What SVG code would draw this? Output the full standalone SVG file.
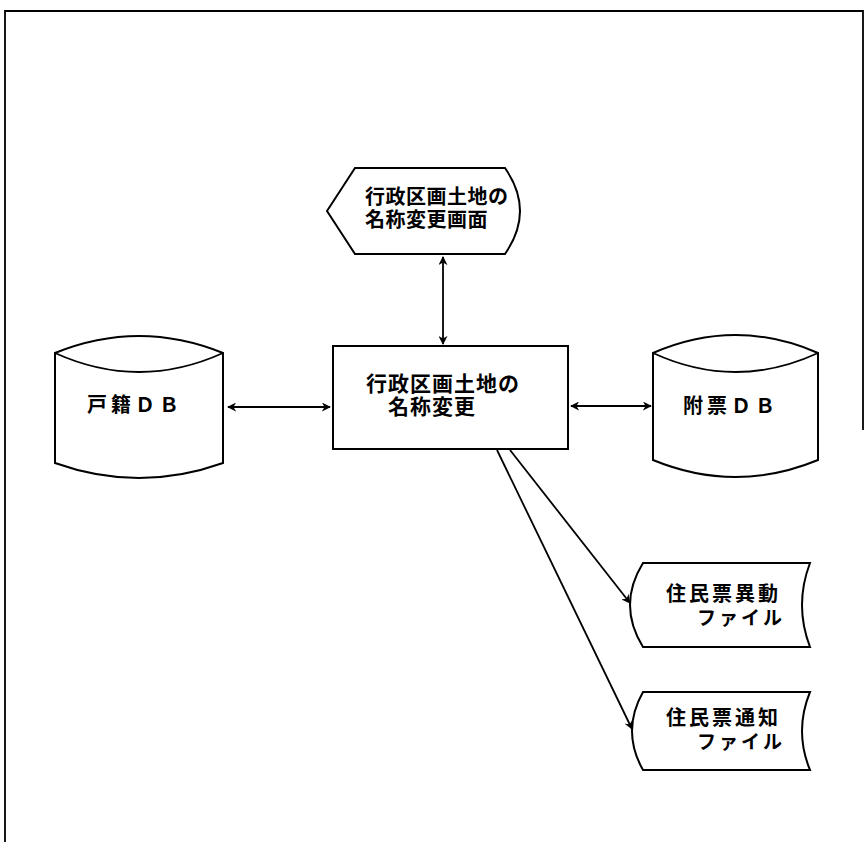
<svg xmlns="http://www.w3.org/2000/svg" width="865" height="842" viewBox="0 0 865 842">
<style>
.s{fill:#fff;stroke:#000;stroke-width:2}
.l{fill:none;stroke:#000;stroke-width:1.8}
.t{font-family:"Noto Sans CJK JP","Noto Sans CJK SC",sans-serif;font-weight:bold;fill:#000}
</style>
<defs>
<marker id="ah" viewBox="0 0 10 10" refX="9" refY="5" markerWidth="9" markerHeight="9" markerUnits="userSpaceOnUse" orient="auto-start-reverse">
<path d="M0,0 L10,5 L0,10 L3,5 Z" fill="#000"/>
</marker>
</defs>
<rect width="865" height="842" fill="#fff"/>
<path class="l" d="M5,842 L5,11 L863,11 L863,430" stroke-width="2.5"/>
<g id="display">
<path class="s" d="M327,211 L355,168 L505,168 Q535,211 505,254 L355,254 Z"/>
<text class="t" font-size="20" x="365" y="204" letter-spacing="0.5">行政区画土地の</text>
<text class="t" font-size="20" x="365" y="227" letter-spacing="0.5">名称変更画面</text>
</g>
<g id="process">
<rect class="s" x="333" y="346" width="235" height="103"/>
<text class="t" font-size="21" x="366" y="391" letter-spacing="1">行政区画土地の</text>
<text class="t" font-size="21" x="388" y="414" letter-spacing="1">名称変更</text>
</g>
<g id="koseki">
<path class="s" d="M55,353 Q139,319 223,353 L223,463 Q139,493 55,463 Z"/>
<path class="l" d="M55,353 Q139,391 223,353"/>
<text class="t" font-size="20" x="87" y="412" letter-spacing="4">戸籍ＤＢ</text>
</g>
<g id="fuhyo">
<path class="s" d="M653,353 Q735.5,317 818,353 L818,460 Q735.5,494 653,460 Z"/>
<path class="l" d="M653,353 Q735.5,391 818,353"/>
<text class="t" font-size="20" x="683" y="413" letter-spacing="4">附票ＤＢ</text>
</g>
<g id="ido">
<path class="s" d="M643,563 L810,563 Q794,605 810,647 L643,647 Q617,605 643,563 Z"/>
<text class="t" font-size="20" x="666" y="601" letter-spacing="3">住民票異動</text>
<text class="t" font-size="19" x="785" y="625" text-anchor="end" letter-spacing="3">ファイル</text>
</g>
<g id="tsuchi">
<path class="s" d="M643,692 L810,692 Q794,731 810,770 L643,770 Q621,731 643,692 Z"/>
<text class="t" font-size="20" x="666" y="725" letter-spacing="3">住民票通知</text>
<text class="t" font-size="19" x="785" y="749" text-anchor="end" letter-spacing="3">ファイル</text>
</g>
<g id="connectors">
<line class="l" x1="443" y1="257" x2="443" y2="344" marker-start="url(#ah)" marker-end="url(#ah)"/>
<line class="l" x1="228" y1="407" x2="330" y2="407" marker-start="url(#ah)" marker-end="url(#ah)"/>
<line class="l" x1="571" y1="406" x2="651" y2="406" marker-start="url(#ah)" marker-end="url(#ah)"/>
<line class="l" x1="510" y1="450" x2="630" y2="603" marker-end="url(#ah)"/>
<line class="l" x1="497" y1="450" x2="632" y2="729" marker-end="url(#ah)"/>
</g>
</svg>
